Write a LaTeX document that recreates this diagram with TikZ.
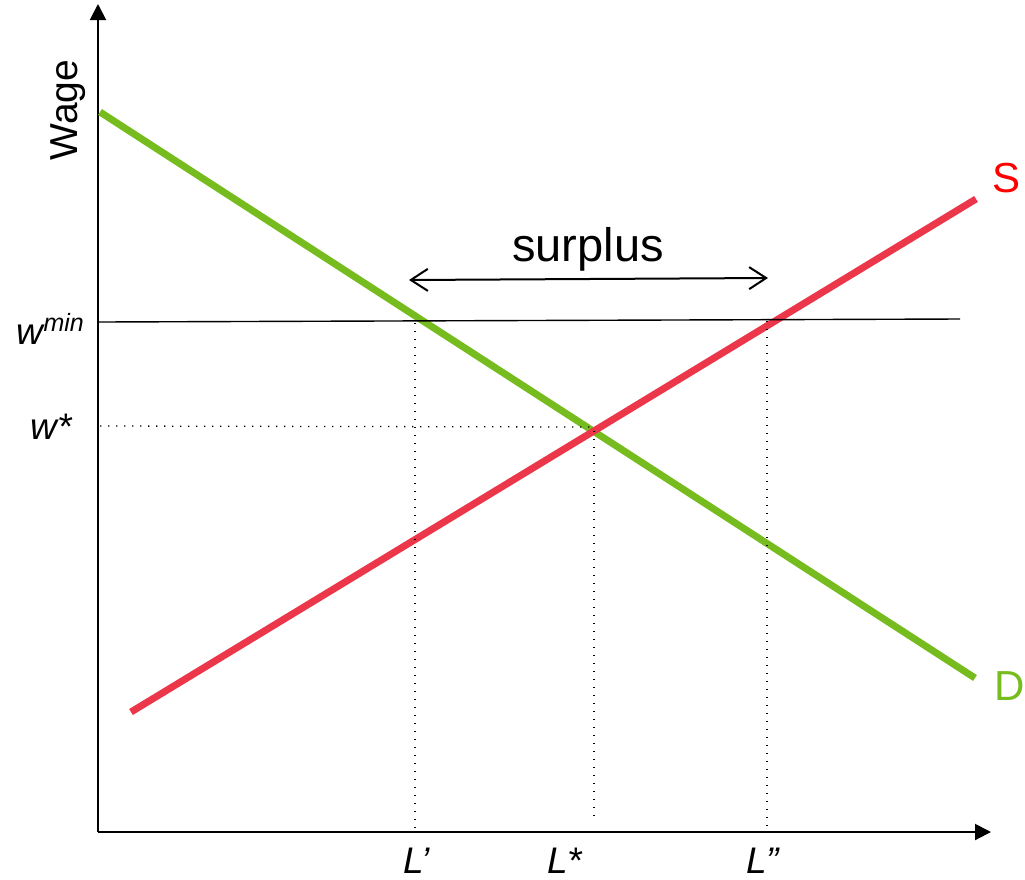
\documentclass[tikz,border=0pt]{standalone}
\usepackage{fontspec}
\setmainfont{Liberation Sans}
\usetikzlibrary{arrows.meta}
\definecolor{dgreen}{RGB}{118,188,30}
\definecolor{sred}{RGB}{236,54,74}
\definecolor{lred}{RGB}{255,0,0}
\begin{document}
\begin{tikzpicture}[x=1pt,y=-1pt,
  axis/.style={line width=2pt,-{Triangle[length=16pt,width=16pt]}},
  curve/.style={line width=7pt},
  dotline/.style={line width=1.3pt,dash pattern=on 1.3pt off 6.7pt},
  lbl/.style={inner sep=0pt,font=\fontsize{37}{44}\selectfont},
  big/.style={inner sep=0pt,font=\fontsize{42}{50}\selectfont}]
\useasboundingbox (0,0) rectangle (1025,879);
% axes
\coordinate (O) at (98,832);
\coordinate (ytip) at (98,4);
\coordinate (xtip) at (991,832);
\draw[axis] (O) -- (ytip);
\draw[axis] (O) -- (xtip);
% demand and supply
\coordinate (D1) at (100,112);
\coordinate (D2) at (975,678);
\coordinate (S1) at (131,712);
\coordinate (S2) at (976,199);
\draw[curve,dgreen] (D1) -- (D2);
\draw[curve,sred] (S1) -- (S2);
% wage lines
\coordinate (wm1) at (99,322);
\coordinate (wm2) at (960,319);
\draw[line width=1.4pt] (wm1) -- (wm2);
\coordinate (ws1) at (100,426);
\coordinate (ws2) at (594,427);
\draw[dotline] (ws1) -- (ws2);
% verticals
\coordinate (Lp1) at (415,323);
\coordinate (Lp2) at (415,832);
\coordinate (Ls1) at (594,431);
\coordinate (Ls2) at (594,822);
\coordinate (Lpp1) at (767,321);
\coordinate (Lpp2) at (767,830);
\draw[dotline] (Lp1) -- (Lp2);
\draw[dotline] (Ls1) -- (Ls2);
\draw[dotline] (Lpp1) -- (Lpp2);
% surplus arrow
\coordinate (sa1) at (409,280);
\coordinate (sa2) at (768,278);
\draw[line width=2pt,{Straight Barb[length=17pt,width=22pt]}-{Straight Barb[length=17pt,width=22pt]}] (sa1) -- (sa2);
\node[inner sep=0pt,font=\fontsize{47}{54}\selectfont,anchor=base] (surplus) at (588,261) {surplus};
% labels
\node[inner sep=0pt,font=\fontsize{39}{46}\selectfont,rotate=90] (wage) at (68,110) {Wage};
\node[lbl,anchor=base east] (wmin) at (84,344) {\itshape w\raisebox{13pt}{\fontsize{25}{25}\selectfont min}};
\node[lbl,anchor=base east] (wstar) at (72,439) {\itshape w*};
\node[lbl,anchor=base west] (Lp) at (403,873) {\itshape L’};
\node[lbl,anchor=base west] (Ls) at (547,873) {\itshape L*};
\node[lbl,anchor=base west] (Lpp) at (746,873) {\itshape L”};
\node[big,text=lred] (S) at (1006,178) {S};
\node[big,text=dgreen] (D) at (1010,686) {D};
\end{tikzpicture}
\end{document}
